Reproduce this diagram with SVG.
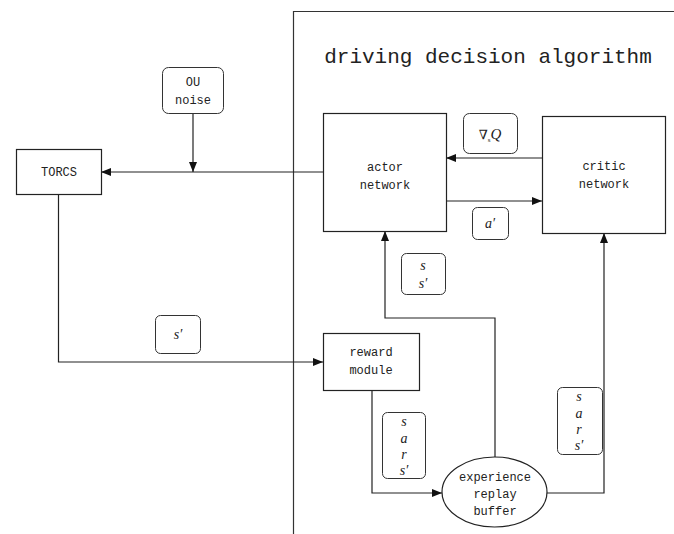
<svg xmlns="http://www.w3.org/2000/svg" width="674" height="534" viewBox="0 0 674 534">
<defs>
<marker id="arr" viewBox="0 0 10 8" refX="10" refY="4" markerWidth="10" markerHeight="8" markerUnits="userSpaceOnUse" orient="auto">
<path d="M0,0 L10,4 L0,8 Z" fill="#111"/>
</marker>
<style>
.box{fill:#fff;stroke:#222;stroke-width:1.2}
.lbl{fill:#fff;stroke:#333;stroke-width:1}
.t{font-family:"Liberation Mono","DejaVu Sans Mono",monospace;font-size:12px;fill:#222;text-anchor:middle}
.m{font-family:"Liberation Serif","DejaVu Serif",serif;font-style:italic;font-size:14px;fill:#222;text-anchor:middle}
.c{fill:none;stroke:#222;stroke-width:1.2}
</style>
</defs>
<rect width="674" height="534" fill="#fff"/>
<g id="region">
<path d="M293.5,534 L293.5,11.5 L674,11.5" fill="none" stroke="#333" stroke-width="1.2"/>
<text x="488" y="63" font-family="'Liberation Mono','DejaVu Sans Mono',monospace" font-size="21" fill="#222" text-anchor="middle">driving decision algorithm</text>
</g>
<g id="connectors">
<path class="c" d="M323,172 L101,172" marker-end="url(#arr)"/>
<path class="c" d="M193,113 L193,172" marker-end="url(#arr)"/>
<path class="c" d="M542,158 L446,158" marker-end="url(#arr)"/>
<path class="c" d="M446,201 L542,201" marker-end="url(#arr)"/>
<path class="c" d="M58.5,194 L58.5,362 L323,362" marker-end="url(#arr)"/>
<path class="c" d="M372,390 L372,493 L442,493" marker-end="url(#arr)"/>
<path class="c" d="M495,457 L495,318 L385,318 L385,231" marker-end="url(#arr)"/>
<path class="c" d="M547,493 L604,493 L604,233" marker-end="url(#arr)"/>
</g>
<g id="torcs">
<rect class="box" x="16.5" y="149.5" width="85" height="45"/>
<text class="t" x="59" y="176">TORCS</text>
</g>
<g id="ou-noise">
<rect class="lbl" x="162.5" y="67.5" width="61" height="46" rx="6"/>
<text class="t" x="193" y="86">OU</text>
<text class="t" x="193" y="104">noise</text>
</g>
<g id="actor">
<rect class="box" x="323.5" y="113.5" width="123" height="118"/>
<text class="t" x="385" y="171">actor</text>
<text class="t" x="385" y="189">network</text>
</g>
<g id="critic">
<rect class="box" x="542.5" y="116.5" width="123" height="117"/>
<text class="t" x="604" y="170">critic</text>
<text class="t" x="604" y="188">network</text>
</g>
<g id="gradq">
<rect class="lbl" x="463.5" y="113.5" width="54" height="40" rx="6"/>
<text x="490" y="139" font-family="'Liberation Serif','DejaVu Serif',serif" font-size="15" fill="#222" text-anchor="middle"><tspan font-size="13">∇</tspan><tspan font-size="7" dy="3">s</tspan><tspan font-style="italic" dy="-3">Q</tspan></text>
</g>
<g id="a-prime">
<rect class="lbl" x="472.5" y="207.5" width="36" height="32" rx="5"/>
<text class="m" x="490" y="228">a′</text>
</g>
<g id="s-sprime">
<rect class="lbl" x="401.5" y="253.5" width="44" height="41" rx="5"/>
<text class="m" x="423" y="270">s</text>
<text class="m" x="423" y="288">s′</text>
</g>
<g id="s-prime">
<rect class="lbl" x="155.5" y="315.5" width="45" height="38" rx="5"/>
<text class="m" x="178" y="339">s′</text>
</g>
<g id="reward">
<rect class="box" x="323.5" y="333.5" width="96" height="57"/>
<text class="t" x="371" y="356">reward</text>
<text class="t" x="371" y="374">module</text>
</g>
<g id="sars-left">
<rect class="lbl" x="382.5" y="412.5" width="43" height="66" rx="5"/>
<text class="m" x="404" y="426">s</text>
<text class="m" x="404" y="443">a</text>
<text class="m" x="404" y="459">r</text>
<text class="m" x="404" y="475">s′</text>
</g>
<g id="sars-right">
<rect class="lbl" x="557.5" y="387.5" width="45" height="67" rx="5"/>
<text class="m" x="579" y="401">s</text>
<text class="m" x="579" y="418">a</text>
<text class="m" x="579" y="434">r</text>
<text class="m" x="579" y="450">s′</text>
</g>
<g id="buffer">
<ellipse class="box" cx="494.5" cy="492" rx="52.5" ry="35"/>
<text class="t" x="495" y="481">experience</text>
<text class="t" x="495" y="498">replay</text>
<text class="t" x="495" y="515">buffer</text>
</g>
</svg>
